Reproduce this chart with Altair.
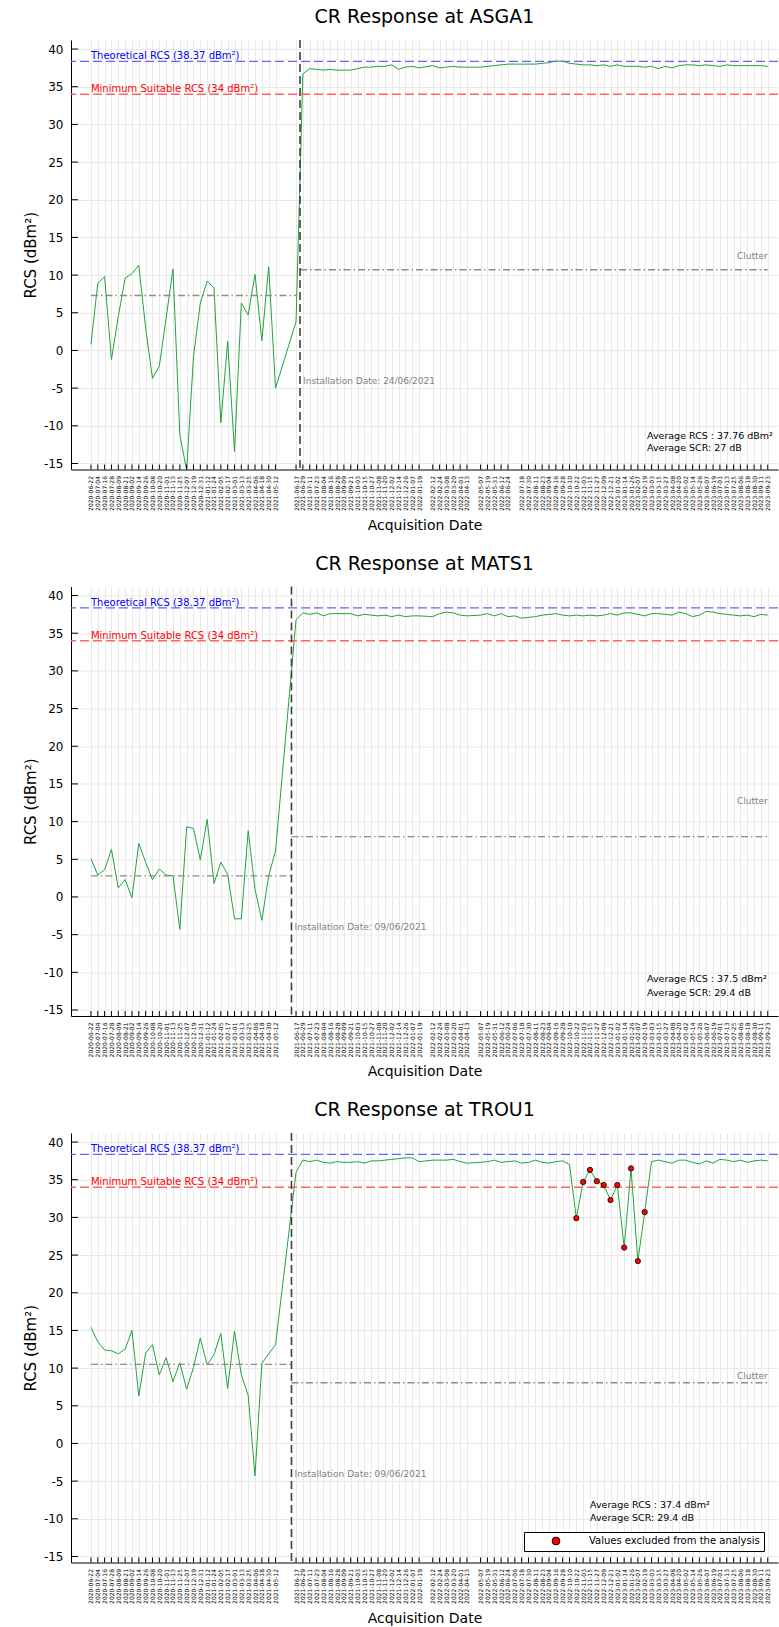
import altair as alt
import pandas as pd

# ---------------- data ----------------
DATES_PRE = ["2020-06-22", "2020-07-04", "2020-07-16", "2020-07-28", "2020-08-09", "2020-08-21",
             "2020-09-02", "2020-09-14", "2020-09-26", "2020-10-08", "2020-10-20", "2020-11-01",
             "2020-11-13", "2020-11-25", "2020-12-07", "2020-12-19", "2020-12-31", "2021-01-12",
             "2021-01-24", "2021-02-05", "2021-02-17", "2021-03-01", "2021-03-13", "2021-03-25",
             "2021-04-06", "2021-04-18", "2021-04-30", "2021-05-12"]

DATES_POST = ["2021-06-17", "2021-06-29", "2021-07-11", "2021-07-23", "2021-08-04", "2021-08-16",
              "2021-08-28", "2021-09-09", "2021-09-21", "2021-10-03", "2021-10-15", "2021-10-27",
              "2021-11-08", "2021-11-20", "2021-12-02", "2021-12-14", "2021-12-26", "2022-01-07",
              "2022-01-19", "2022-02-12", "2022-02-24", "2022-03-08", "2022-03-20", "2022-04-01",
              "2022-04-13", "2022-05-07", "2022-05-19", "2022-05-31", "2022-06-12", "2022-06-24",
              "2022-07-06", "2022-07-18", "2022-07-30", "2022-08-11", "2022-08-23", "2022-09-04",
              "2022-09-16", "2022-09-28", "2022-10-10", "2022-10-22", "2022-11-03", "2022-11-15",
              "2022-11-27", "2022-12-09", "2022-12-21", "2023-01-02", "2023-01-14", "2023-01-26",
              "2023-02-07", "2023-02-19", "2023-03-03", "2023-03-15", "2023-03-27", "2023-04-08",
              "2023-04-20", "2023-05-02", "2023-05-14", "2023-05-26", "2023-06-07", "2023-06-19",
              "2023-07-01", "2023-07-13", "2023-07-25", "2023-08-06", "2023-08-18", "2023-08-30",
              "2023-09-11", "2023-09-23"]

ASGA1_MISSING = ["2022-07-06"]
MATS1_MISSING = []
TROU1_MISSING = []

ASGA1_PRE = [0.8, 8.9, 9.8, -1.2, 4.5, 9.6, 10.2, 11.3, 3.0, -3.7, -2.1, 4.3, 10.8, -11.2,
             -15.9, -0.8, 6.3, 9.2, 8.3, -9.6, 1.2, -13.4, 6.3, 4.7, 10.1, 1.3, 11.1, -5.0]
ASGA1_POST = [3.8, 36.7, 37.4, 37.3, 37.2, 37.3, 37.2, 37.2, 37.2, 37.4, 37.6, 37.6, 37.7, 37.7,
              37.9, 37.3, 37.6, 37.7, 37.5, 37.8, 37.5, 37.6, 37.7, 37.6, 37.6, 37.6, 37.7, 37.8,
              37.9, 38.0, 38.0, 38.0, 38.0, 38.1, 38.2, 38.4, 38.4, 38.1, 38.0, 37.9, 37.9, 37.8,
              37.9, 37.7, 37.9, 37.7, 37.7, 37.7, 37.6, 37.7, 37.4, 37.7, 37.5, 37.8, 37.9, 37.9,
              37.8, 37.9, 37.8, 37.7, 37.9, 37.8, 37.8, 37.8, 37.8, 37.8, 37.7]

MATS1_PRE = [5.1, 2.9, 3.6, 6.3, 1.2, 2.3, -0.1, 7.1, 4.6, 2.3, 3.7, 2.9, 2.8, -4.3,
             9.3, 9.1, 4.9, 10.3, 1.8, 4.6, 3.0, -2.9, -2.9, 8.8, 1.0, -3.1, 2.8, 6.1]
MATS1_POST = [36.8, 37.7, 37.5, 37.7, 37.3, 37.6, 37.6, 37.6, 37.6, 37.3, 37.5, 37.4, 37.3, 37.4,
              37.2, 37.4, 37.2, 37.3, 37.3, 37.2, 37.6, 37.8, 37.7, 37.4, 37.3, 37.4, 37.6, 37.3,
              37.6, 37.2, 37.3, 37.0, 37.1, 37.2, 37.4, 37.5, 37.6, 37.4, 37.3, 37.4, 37.3, 37.4,
              37.3, 37.4, 37.6, 37.4, 37.7, 37.7, 37.5, 37.3, 37.6, 37.6, 37.5, 37.4, 37.8, 37.6,
              37.2, 37.4, 37.9, 37.8, 37.6, 37.5, 37.4, 37.3, 37.4, 37.2, 37.5, 37.4]

TROU1_PRE = [15.4, 13.5, 12.4, 12.3, 11.9, 12.5, 15.0, 6.3, 12.0, 13.1, 9.1, 11.4, 8.2, 10.7,
             7.2, 10.1, 14.0, 10.4, 11.8, 14.6, 7.3, 14.9, 9.1, 6.4, -4.3, 10.6, 11.9, 13.1]
TROU1_POST = [36.0, 37.6, 37.4, 37.6, 37.3, 37.2, 37.4, 37.3, 37.3, 37.4, 37.2, 37.5, 37.5, 37.6,
              37.7, 37.8, 37.9, 37.9, 37.4, 37.6, 37.6, 37.6, 37.7, 37.4, 37.2, 37.3, 37.4, 37.6,
              37.3, 37.4, 37.5, 37.2, 37.3, 37.6, 37.3, 37.2, 37.4, 37.5, 37.0, 29.9, 34.7, 36.3,
              34.8, 34.3, 32.3, 34.3, 26.0, 36.5, 24.2, 30.7, 37.4, 37.6, 37.4, 37.2, 37.6, 37.6,
              37.3, 37.1, 37.5, 37.2, 37.7, 37.6, 37.4, 37.6, 37.3, 37.5, 37.6, 37.5]
TROU1_EXCLUDED = ["2022-10-22", "2022-11-03", "2022-11-15", "2022-11-27", "2022-12-09", "2022-12-21",
                  "2023-01-02", "2023-01-14", "2023-01-26", "2023-02-07", "2023-02-19"]

THEORETICAL = 38.37
MINIMUM = 34
Y_TICKS = [-15, -10, -5, 0, 5, 10, 15, 20, 25, 30, 35, 40]
Y_DOMAIN = [-15.8, 41.2]
X_DOMAIN = ["2020-05-18", "2023-10-11"]

PANELS = [
    dict(name="ASGA1", pre=ASGA1_PRE, post=ASGA1_POST, missing=ASGA1_MISSING,
         install="2021-06-24", install_label="Installation Date: 24/06/2021",
         clutter_pre=7.3, clutter_pre_end="2021-06-17", clutter_post=10.7, clutter_label_y=12.6,
         avg=["Average RCS : 37.76 dBm²", "Average SCR: 27 dB"], avg_date="2023-02-23",
         avg_y=[-11.3, -13.0], excluded=[]),
    dict(name="MATS1", pre=MATS1_PRE, post=MATS1_POST, missing=MATS1_MISSING,
         install="2021-06-09", install_label="Installation Date: 09/06/2021",
         clutter_pre=2.8, clutter_pre_end="2021-06-09", clutter_post=8.0, clutter_label_y=12.7,
         avg=["Average RCS : 37.5 dBm²", "Average SCR: 29.4 dB"], avg_date="2023-02-23",
         avg_y=[-10.9, -12.7], excluded=[]),
    dict(name="TROU1", pre=TROU1_PRE, post=TROU1_POST, missing=TROU1_MISSING,
         install="2021-06-09", install_label="Installation Date: 09/06/2021",
         clutter_pre=10.5, clutter_pre_end="2021-06-09", clutter_post=8.05, clutter_label_y=9.0,
         avg=["Average RCS : 37.4 dBm²", "Average SCR: 29.4 dB"], avg_date="2022-11-15",
         avg_y=[-8.2, -9.9], excluded=TROU1_EXCLUDED),
]

LEGEND_LABEL = "Values excluded from the analysis"

W = 707
H = 429.5
GAP = 116.5
FONT = "DejaVu Sans"
GREEN = "#22a33a"


def ms(d):
    return int(pd.Timestamp(d, tz="UTC").value // 10**6)


XS = alt.Scale(type="utc", domain=[ms(X_DOMAIN[0]), ms(X_DOMAIN[1])], nice=False)
YS = alt.Scale(domain=Y_DOMAIN, nice=False, zero=False)


def make_panel(idx, p):
    dates = DATES_PRE + [d for d in DATES_POST if d not in p["missing"]]
    vals = p["pre"] + p["post"]
    df = pd.DataFrame({"date": dates, "v": vals})

    # identical encodings for every layer so that the shared axes merge cleanly
    X = alt.X("date:T", scale=XS, title="Acquisition Date",
              axis=alt.Axis(values=[ms(d) for d in dates],
                            labelExpr="utcFormat(datum.value, '%Y-%m-%d')",
                            labelAngle=270, labelFontSize=6, labelOverlap=False,
                            labelPadding=6, tickSize=0, grid=True, titleFontSize=14,
                            titlePadding=8, labelFlush=False, labelBound=False))
    Y = alt.Y("v:Q", scale=YS, title="RCS (dBm²)",
              axis=alt.Axis(values=Y_TICKS, labelExpr="'' + datum.value",
                            labelFontSize=12, tickSize=0, labelPadding=8, labelOverlap=False,
                            labelBound=False, grid=True, titleFontSize=15, titlePadding=5))

    layers = [alt.Chart(df).mark_line(color=GREEN, strokeWidth=1).encode(x=X, y=Y)]

    # reference levels
    ref = pd.DataFrame({"date": [DATES_PRE[0], DATES_PRE[0]], "v": [THEORETICAL, MINIMUM],
                        "t": ["Theoretical RCS (38.37 dBm²)", "Minimum Suitable RCS (34 dBm²)"],
                        "c": ["blue", "red"], "lc": ["#6464ff", "#ff6464"]})
    layers.append(alt.Chart(ref).mark_rule(strokeWidth=1.3, strokeDash=[9, 4])
                  .encode(y=Y, color=alt.Color("lc:N", scale=None)))
    layers.append(alt.Chart(ref).mark_text(align="left", baseline="alphabetic", dy=-2,
                                           fontSize=10, font=FONT)
                  .encode(x=X, y=Y, text="t:N", color=alt.Color("c:N", scale=None)))

    # clutter levels
    clut = pd.DataFrame({"date": [DATES_PRE[0], p["install"]],
                         "date2": [p["clutter_pre_end"], DATES_POST[-1]],
                         "v": [p["clutter_pre"], p["clutter_post"]]})
    layers.append(alt.Chart(clut).mark_rule(color="#8c8c8c", strokeWidth=1.4,
                                            strokeDash=[7, 3, 1.5, 3])
                  .encode(x=X, x2="date2:T", y=Y))
    clab = pd.DataFrame({"date": [DATES_POST[-1]], "v": [p["clutter_label_y"]], "t": ["Clutter"]})
    layers.append(alt.Chart(clab).mark_text(align="right", baseline="middle",
                                            fontSize=9, color="#808080", font=FONT)
                  .encode(x=X, y=Y, text="t:N"))

    # installation date
    inst = pd.DataFrame({"date": [p["install"]], "v": [-4.0], "t": [p["install_label"]]})
    layers.append(alt.Chart(inst).mark_rule(color="#404040", strokeWidth=1.6, strokeDash=[8, 4])
                  .encode(x=X))
    layers.append(alt.Chart(inst).mark_text(align="left", baseline="middle", dx=3, fontSize=9,
                                            color="#808080", font=FONT)
                  .encode(x=X, y=Y, text="t:N"))

    # averages
    av = pd.DataFrame({"date": [p["avg_date"]] * 2, "v": p["avg_y"], "t": p["avg"]})
    layers.append(alt.Chart(av).mark_text(align="left", baseline="middle", fontSize=9.5,
                                          color="black", font=FONT)
                  .encode(x=X, y=Y, text="t:N"))

    # inward ticks
    layers.append(alt.Chart(pd.DataFrame({"date": dates})).mark_rule(color="black", strokeWidth=1)
                  .encode(x=X, y=alt.value(H), y2=alt.value(H - 5)))
    layers.append(alt.Chart(pd.DataFrame({"v": Y_TICKS})).mark_rule(color="black", strokeWidth=1)
                  .encode(y=Y, x=alt.value(0), x2=alt.value(7)))

    # excluded values
    if p["excluded"]:
        ex = df[df["date"].isin(p["excluded"])].copy()
        ex["lab"] = LEGEND_LABEL
        layers.append(alt.Chart(ex).mark_point(filled=True, size=28, stroke="black",
                                               strokeWidth=0.8, opacity=1)
                      .encode(x=X, y=Y,
                              color=alt.Color("lab:N",
                                              scale=alt.Scale(range=["red"]),
                                              legend=alt.Legend(
                                                  title=None, orient="none",
                                                  legendX=453, legendY=400 + idx * (H + GAP),
                                                  strokeColor="black", fillColor="white",
                                                  padding=4, symbolType="circle",
                                                  symbolSize=60, symbolStrokeColor="black",
                                                  symbolStrokeWidth=1, symbolOffset=23,
                                                  labelOffset=28, labelFontSize=10,
                                                  labelLimit=400, labelFont=FONT,
                                                  labelExpr="datum.label + '\u00a0\u00a0\u00a0\u00a0\u00a0\u00a0\u00a0'"))))

    return alt.layer(*layers).properties(
        width=W, height=H,
        title=alt.TitleParams(f"CR Response at {p['name']}", fontSize=19, fontWeight="normal",
                              font=FONT, anchor="middle", offset=12, color="black"))


charts = [make_panel(i, p) for i, p in enumerate(PANELS)]

chart = alt.vconcat(*charts, spacing=GAP, bounds="flush").properties(
    padding={"left": 23, "top": 8, "right": 0, "bottom": 0}
).configure_view(stroke=None).configure_axis(
    labelFont=FONT, titleFont=FONT, labelColor="black", titleColor="black",
    titleFontWeight="normal", domainColor="black", domainWidth=1,
    gridColor="#e9e9e9", gridWidth=1
)

chart.save("out.html", embed_options={"renderer": "svg", "actions": False})
